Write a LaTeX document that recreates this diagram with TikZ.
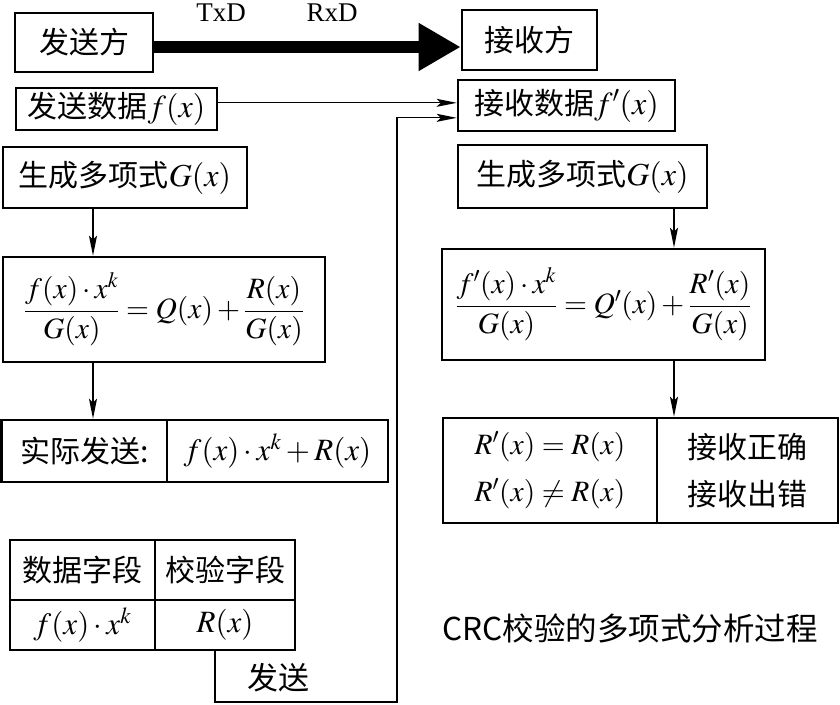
\documentclass[tikz,border=0pt]{standalone}
\usepackage{amsmath}
\usepackage{mathptmx}
\usepackage{fontspec}
\setmainfont{Liberation Serif}
\newfontfamily\cjk{Noto Sans CJK SC}
\newcommand\mth[1]{{\fontsize{32}{34}\selectfont$#1$}}
\usetikzlibrary{arrows.meta,calc}
\begin{document}
\begin{tikzpicture}[x=1pt,y=-1pt,
  box/.style={draw, line width=2.6pt, inner sep=0pt, font=\cjk\fontsize{30}{32}\selectfont},
  mbox/.style={box, font=\cjk\fontsize{31}{33}\selectfont},
  fbox/.style={box, font=\cjk\fontsize{29.5}{31}\selectfont},
  conn/.style={line width=1.3pt, -{Stealth[length=20pt,width=8pt,inset=4pt]}},
  lbl/.style={inner sep=0pt, font=\cjk\fontsize{31}{33}\selectfont},
  captext/.style={inner sep=0pt, font=\cjk\fontsize{31.5}{33}\selectfont},
  tag/.style={inner sep=0pt, font=\fontsize{27}{29}\selectfont},
  bigarrow/.style={line width=12pt, -{Triangle[length=42pt,width=45pt]}}]
\useasboundingbox (0,0) rectangle (840,704);
% top row
\node[box, minimum width=138pt, minimum height=59pt] (send) at (84,42.5) {发送方};
\node[box, minimum width=135pt, minimum height=60pt] (recv) at (529.5,40) {接收方};
\coordinate (yT) at (0,47);
\draw[bigarrow] (send.east |- yT) -- (recv.west |- yT);
\node[tag] (txd) at (221,13) {TxD};
\node[tag] (rxd) at (332,13) {RxD};
% data row
\node[box, minimum width=201pt, minimum height=42pt] (sdata) at (116.5,109) {发送数据\mth{f(x)}};
\node[box, minimum width=217pt, minimum height=51pt] (rdata) at (566.5,105.5) {接收数据\mth{f'(x)}};
% left column
\node[box, minimum width=244pt, minimum height=61pt] (genL) at (125,177.5) {生成多项式\mth{G(x)}};
\node[fbox, minimum width=322pt, minimum height=105pt] (fracL) at (164,309.5)
  {$\dfrac{f(x)\cdot x^k}{G(x)} = Q(x) + \dfrac{R(x)}{G(x)}$};
\node[box, minimum width=165.5pt, minimum height=62pt] (sendL) at (84.25,451) {实际发送:};
\node[mbox, minimum width=221pt, minimum height=62pt] (sendR) at (277.5,451) {$f(x)\cdot x^k + R(x)$};
% table
\node[box, minimum width=145pt, minimum height=60pt] (tH1) at (82.5,570) {数据字段};
\node[box, minimum width=140pt, minimum height=60pt] (tH2) at (225,570) {校验字段};
\node[mbox, minimum width=145pt, minimum height=50pt] (tD1) at (82.5,625) {$f(x)\cdot x^k$};
\node[mbox, minimum width=140pt, minimum height=50pt] (tRx) at (225,625) {$R(x)$};
\node[lbl] (fasong) at (278,678) {发送};
% right column
\node[box, minimum width=249pt, minimum height=63pt] (genR) at (582.5,176.5) {生成多项式\mth{G(x)}};
\node[fbox, minimum width=323pt, minimum height=111pt] (fracR) at (603.5,304.5)
  {$\dfrac{f'(x)\cdot x^k}{G(x)} = Q'(x) + \dfrac{R'(x)}{G(x)}$};
\node[box, minimum width=214pt, minimum height=105pt, align=center, font=\cjk\fontsize{29.5}{47}\selectfont] (resL) at (550,470.5)
  {$R'(x) = R(x)$\\$R'(x) \neq R(x)$};
\node[box, minimum width=181pt, minimum height=105pt, align=center, font=\cjk\fontsize{30}{47}\selectfont] (resR) at (747.5,470.5)
  {接收正确\\接收出错};
\node[captext] (caption) at (630,628) {CRC校验的多项式分析过程};
% connectors
\coordinate (xL) at (93,0);
\coordinate (xR) at (674,0);
\draw[conn] (genL.south -| xL) -- (fracL.north -| xL);
\draw[conn] (fracL.south -| xL) -- (sendL.north -| xL);
\draw[conn] (genR.south -| xR) -- (fracR.north -| xR);
\draw[conn] (fracR.south -| xR) -- (resR.north -| xR);
\coordinate (in1) at ($(rdata.north west)!0.45!(rdata.south west)$);
\coordinate (in2) at ($(rdata.north west)!0.73!(rdata.south west)$);
\draw[conn] (sdata.east |- in1) -- (in1);
\coordinate (s0) at ($(tRx.south west)!0.43!(tRx.south east)$);
\coordinate (c1) at (397,702);
\draw[conn] (s0) |- (c1) |- (in2);
\end{tikzpicture}
\end{document}
